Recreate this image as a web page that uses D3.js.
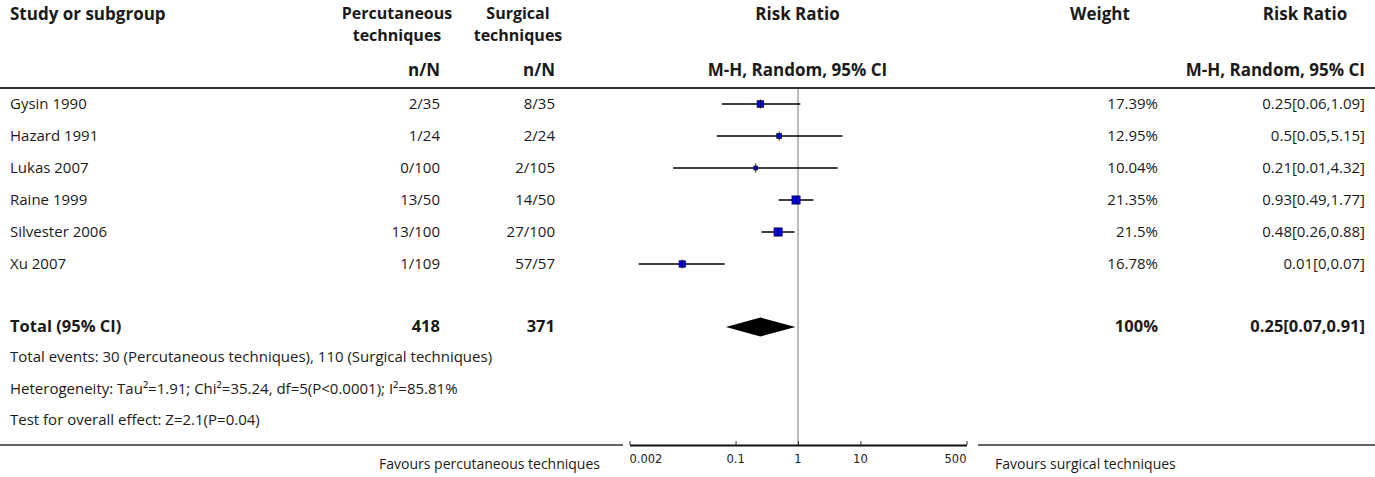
<!DOCTYPE html>
<html>
<head>
<meta charset="utf-8">
<script src="https://cdn.jsdelivr.net/npm/d3@7"></script>
<style>
  body { margin: 0; background: #fff; }
  svg { font-family: "Source Sans Pro", "Open Sans", sans-serif; }
</style>
</head>
<body>
<svg width="1375" height="477"></svg>
<script>
// Study data
var studies = ["Gysin 1990", "Hazard 1991", "Lukas 2007", "Raine 1999", "Silvester 2006", "Xu 2007"];
var percut = ["2/35", "1/24", "0/100", "13/50", "13/100", "1/109"];
var surgical = ["8/35", "2/24", "2/105", "14/50", "27/100", "57/57"];
var rr = [0.25, 0.5, 0.21, 0.93, 0.48, 0.014];
var lower = [0.06, 0.05, 0.01, 0.49, 0.26, 0.0028];
var upper = [1.09, 5.15, 4.32, 1.77, 0.88, 0.067];
var weights = [17.39, 12.95, 10.04, 21.35, 21.5, 16.78];
var weightLabels = ["17.39%", "12.95%", "10.04%", "21.35%", "21.5%", "16.78%"];
var rrLabels = ["0.25[0.06,1.09]", "0.5[0.05,5.15]", "0.21[0.01,4.32]", "0.93[0.49,1.77]", "0.48[0.26,0.88]", "0.01[0,0.07]"];

var total = { rr: 0.25, lower: 0.07, upper: 0.91, percN: "418", surgN: "371", weight: "100%", label: "0.25[0.07,0.91]" };
var notes = [
    "Total events: 30 (Percutaneous techniques), 110 (Surgical techniques)",
    "Heterogeneity: Tau\u00b2=1.91; Chi\u00b2=35.24, df=5(P<0.0001); I\u00b2=85.81%",
    "Test for overall effect: Z=2.1(P=0.04)"
];
var ticks = [0.002, 0.1, 1, 10, 500];
var tickLabels = ["0.002", "0.1", "1", "10", "500"];

var svg = d3.select("svg"),
    fs = 15,    // body text
    bs = 16.5;  // bold text

var x = d3.scaleLog().domain([0.002, 500]).range([629.5, 966.5]);
var rowY = d3.scaleLinear().domain([0, 1]).range([104, 136]);
var side = d3.scaleLinear().domain([0, 21.5]).range([0, 8.2]);

var col = { study: 10, perc: 440, surg: 555, rrMid: 797.5, weight: 1158, rrText: 1365 };

function txt(xp, yp, s, anchor, bold, size) {
    return svg.append("text")
        .attr("x", xp).attr("y", yp)
        .attr("text-anchor", anchor || "start")
        .attr("font-size", size || (bold ? bs : fs))
        .attr("font-weight", bold ? "bold" : "normal")
        .attr("fill", "#1a1a1a")
        .text(s);
}

// header
var hs = 17;
txt(col.study, 20, "Study or subgroup", "start", true, hs);
txt(397, 19, "Percutaneous", "middle", true, 16);
txt(397, 41, "techniques", "middle", true, 16);
txt(518, 19, "Surgical", "middle", true, 16);
txt(518, 41, "techniques", "middle", true, 16);
txt(col.rrMid, 20, "Risk Ratio", "middle", true, hs);
txt(1100, 20, "Weight", "middle", true, hs);
txt(1305, 20, "Risk Ratio", "middle", true, hs);
txt(col.perc, 76, "n/N", "end", true, hs);
txt(col.surg, 76, "n/N", "end", true, hs);
txt(col.rrMid, 76, "M-H, Random, 95% CI", "middle", true, hs);
txt(col.rrText, 76, "M-H, Random, 95% CI", "end", true, hs);

svg.append("line")
    .attr("x1", 0).attr("x2", 1375).attr("y1", 88).attr("y2", 88)
    .attr("stroke", "#333").attr("stroke-width", 2);

// null line
svg.append("line")
    .attr("x1", x(1)).attr("x2", x(1)).attr("y1", 89).attr("y2", 445)
    .attr("stroke", "#999").attr("stroke-width", 1.3);

// study rows
studies.forEach(function (s, i) {
    var y = rowY(i);
    txt(col.study, y + 5, s);
    txt(col.perc, y + 5, percut[i], "end");
    txt(col.surg, y + 5, surgical[i], "end");
    txt(col.weight, y + 5, weightLabels[i], "end");
    txt(col.rrText, y + 5, rrLabels[i], "end");

    svg.append("line")
        .attr("x1", x(lower[i])).attr("x2", x(upper[i]))
        .attr("y1", y).attr("y2", y)
        .attr("stroke", "#000").attr("stroke-width", 1.4);
    var w = side(weights[i]);
    svg.append("rect")
        .attr("x", x(rr[i]) - w / 2).attr("y", y - w / 2)
        .attr("width", w).attr("height", w)
        .attr("fill", "#0000ee").attr("stroke", "#000044").attr("stroke-width", 0.7);
    svg.append("line")
        .attr("x1", x(rr[i])).attr("x2", x(rr[i]))
        .attr("y1", y - 4.5).attr("y2", y + 4.5)
        .attr("stroke", "#111").attr("stroke-width", 0.9);
});

// total row
var ty = 327;
txt(col.study, ty + 5, "Total (95% CI)", "start", true);
txt(col.perc, ty + 5, total.percN, "end", true);
txt(col.surg, ty + 5, total.surgN, "end", true);
txt(col.weight, ty + 5, total.weight, "end", true);
txt(col.rrText, ty + 5, total.label, "end", true);

svg.append("path")
    .attr("d", d3.line()([
        [x(total.lower), ty], [x(total.rr), ty - 9.5],
        [x(total.upper), ty], [x(total.rr), ty + 9.5]
    ]) + "Z")
    .attr("fill", "#000");

notes.forEach(function (n, i) {
    txt(col.study, 362 + i * 31.5, n);
});

// bottom rule and axis
svg.append("line")
    .attr("x1", 0).attr("x2", 623).attr("y1", 445).attr("y2", 445)
    .attr("stroke", "#333").attr("stroke-width", 1.5);
svg.append("line")
    .attr("x1", 978).attr("x2", 1375).attr("y1", 445).attr("y2", 445)
    .attr("stroke", "#333").attr("stroke-width", 1.5);

var axis = svg.append("g")
    .attr("transform", "translate(0,445)")
    .call(d3.axisTop(x).tickValues(ticks).tickSize(4).tickSizeOuter(0).tickFormat(""));
axis.select(".domain").attr("stroke", "#111").attr("stroke-width", 1.8);
axis.selectAll(".tick line").attr("stroke", "#333");

svg.selectAll(".ticklab")
    .data(ticks)
    .enter().append("text")
    .attr("class", "ticklab")
    .attr("x", function (d) { return x(d); })
    .attr("y", 463)
    .attr("text-anchor", function (d, i) { return i === ticks.length - 1 ? "end" : (i === 0 ? "start" : "middle"); })
    .attr("font-family", "DejaVu Sans, sans-serif")
    .attr("font-size", 11.5)
    .attr("fill", "#222")
    .text(function (d, i) { return tickLabels[i]; });

txt(600, 469, "Favours percutaneous techniques", "end", false, 14);
txt(995, 469, "Favours surgical techniques", "start", false, 14);
</script>
</body>
</html>
